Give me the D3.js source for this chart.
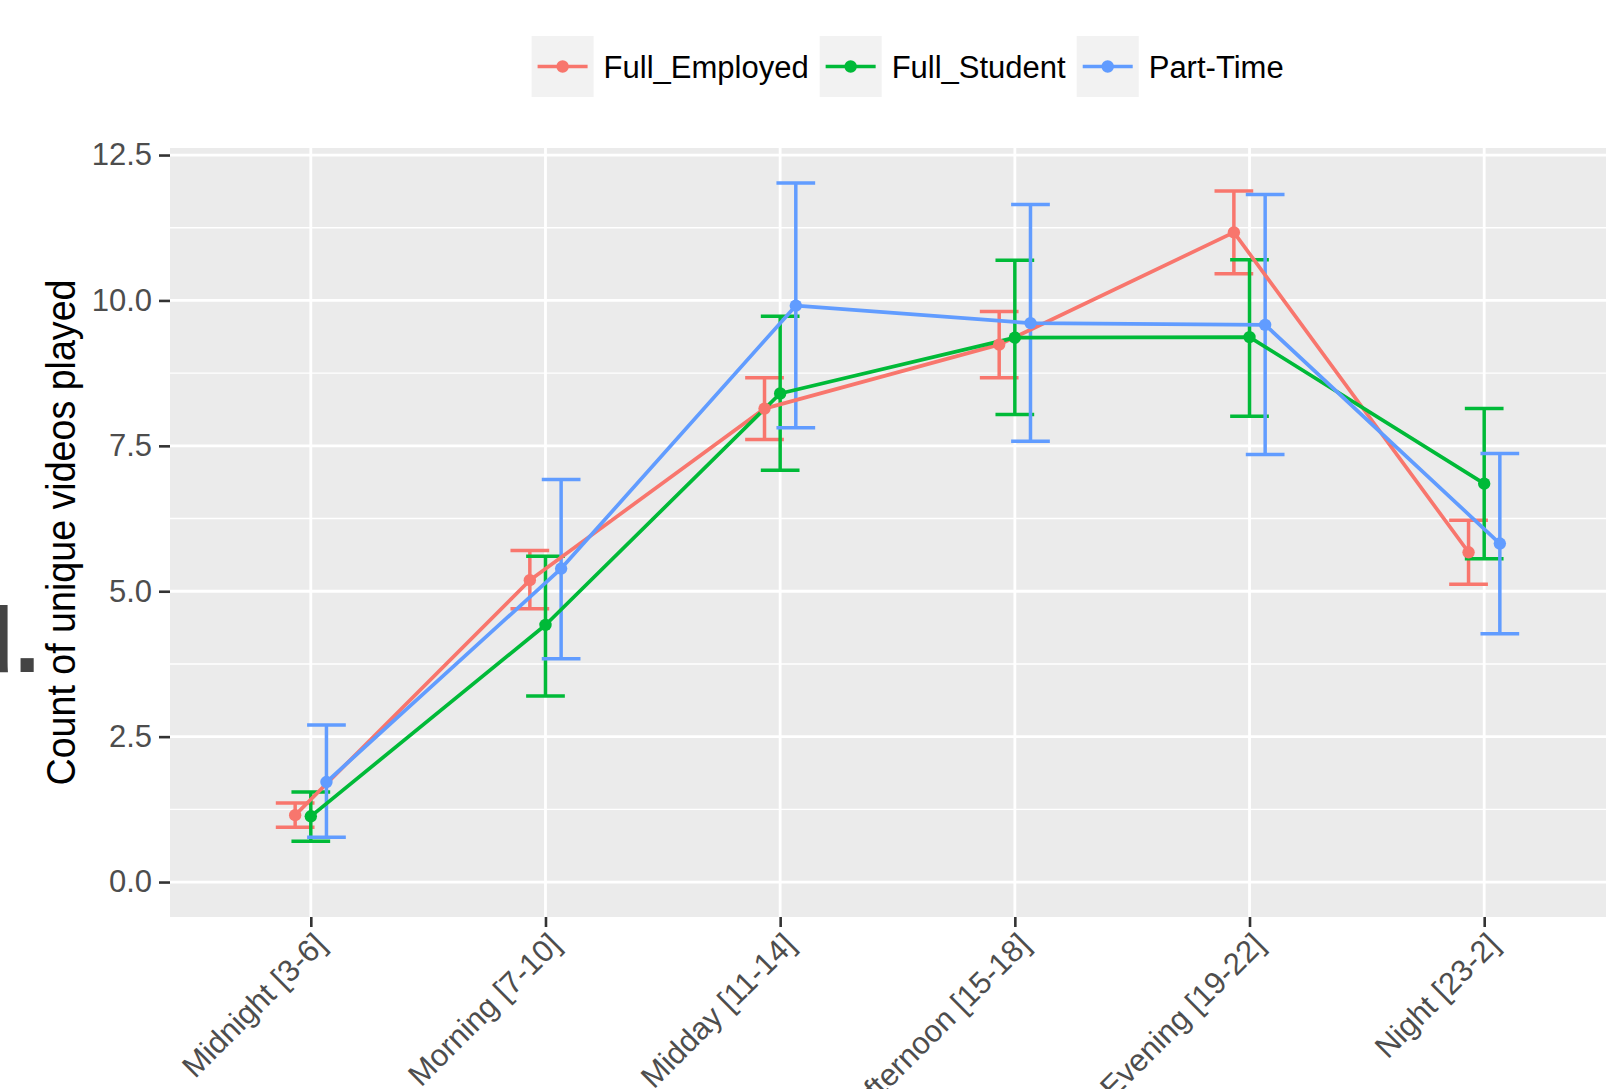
<!DOCTYPE html>
<html>
<head>
<meta charset="utf-8">
<script src="https://cdn.jsdelivr.net/npm/d3@7"></script>
<style>
  body { margin: 0; background: #fff; }
  svg { display: block; font-family: "Liberation Sans", Arial, Helvetica, sans-serif; }
</style>
</head>
<body>
<div id="chart"></div>
<script>
// Categories and groups
const periods = ["Midnight [3-6]", "Morning [7-10]", "Midday [11-14]", "Afternoon [15-18]", "Evening [19-22]", "Night [23-2]"];
const groups = ["Full_Employed", "Full_Student", "Part-Time"];
const groupColors = ["#F8766D", "#00BA38", "#619CFF"];
const yTicks = [0, 2.5, 5, 7.5, 10, 12.5];

// Means and error bar bounds, one array per group
const employedMean  = [1.15, 5.19, 8.14, 9.24, 11.17, 5.67];
const employedLow   = [0.94, 4.70, 7.61, 8.67, 10.46, 5.12];
const employedHigh  = [1.36, 5.70, 8.67, 9.81, 11.88, 6.22];
const studentMean   = [1.13, 4.42, 8.40, 9.36, 9.37, 6.85];
const studentLow    = [0.70, 3.20, 7.08, 8.04, 8.01, 5.56];
const studentHigh   = [1.55, 5.60, 9.73, 10.69, 10.70, 8.14];
const partMean      = [1.72, 5.39, 9.91, 9.61, 9.58, 5.82];
const partLow       = [0.77, 3.84, 7.81, 7.58, 7.35, 4.27];
const partHigh      = [2.70, 6.92, 12.02, 11.65, 11.82, 7.37];

const series = [
  { name: groups[0], mean: employedMean, low: employedLow, high: employedHigh },
  { name: groups[1], mean: studentMean, low: studentLow, high: studentHigh },
  { name: groups[2], mean: partMean, low: partLow, high: partHigh }
];

const W = 1606, H = 1089;
const panel = { left: 170, right: 1625, top: 148, bottom: 917 };
const dodge = 0.2;      // position_dodge width
const capWidth = 0.165; // errorbar cap width in x units

const svg = d3.select("#chart").append("svg")
  .attr("width", W)
  .attr("height", H);

// x: discrete positions 1..6 with 0.6 expansion
const x = d3.scaleLinear()
  .domain([0.4, periods.length + 0.6])
  .range([panel.left, panel.right]);

// y: include 0, expand by 5% of range
const yMax = d3.max(series, s => d3.max(s.high));
const yMin = 0;
const pad = (yMax - yMin) * 0.05;
const y = d3.scaleLinear()
  .domain([yMin - pad, yMax + pad])
  .range([panel.bottom, panel.top]);

const color = d3.scaleOrdinal().domain(groups).range(groupColors);
const offset = g => (groups.indexOf(g) - 1) * dodge / 3;

// Panel background
svg.append("rect")
  .attr("x", panel.left)
  .attr("y", panel.top)
  .attr("width", panel.right - panel.left)
  .attr("height", panel.bottom - panel.top)
  .attr("fill", "#EBEBEB");

// Minor gridlines
const minor = yTicks.slice(0, -1).map(t => t + 1.25);
svg.append("g").selectAll("line")
  .data(minor)
  .join("line")
    .attr("x1", panel.left).attr("x2", panel.right)
    .attr("y1", d => y(d)).attr("y2", d => y(d))
    .attr("stroke", "#fff")
    .attr("stroke-width", 1.4);

// Major gridlines
svg.append("g").selectAll("line")
  .data(yTicks)
  .join("line")
    .attr("x1", panel.left).attr("x2", panel.right)
    .attr("y1", d => y(d)).attr("y2", d => y(d))
    .attr("stroke", "#fff")
    .attr("stroke-width", 2.8);
svg.append("g").selectAll("line")
  .data(d3.range(1, periods.length + 1))
  .join("line")
    .attr("x1", d => x(d)).attr("x2", d => x(d))
    .attr("y1", panel.top).attr("y2", panel.bottom)
    .attr("stroke", "#fff")
    .attr("stroke-width", 2.8);

// Y axis
const yAxis = svg.append("g")
  .attr("transform", `translate(${panel.left},0)`)
  .call(d3.axisLeft(y).tickValues(yTicks).tickFormat(d3.format(".1f")).tickSize(11).tickPadding(7));
yAxis.select(".domain").remove();
yAxis.selectAll(".tick line").attr("stroke", "#333").attr("stroke-width", 2.6);
yAxis.selectAll(".tick text")
  .attr("fill", "#4D4D4D")
  .style("font-size", "31px")
  .style("font-family", "'Liberation Sans', Arial, sans-serif");

// X axis
const xAxis = svg.append("g")
  .attr("transform", `translate(0,${panel.bottom})`)
  .call(d3.axisBottom(x).tickValues(d3.range(1, periods.length + 1)).tickFormat(d => periods[d - 1]).tickSize(10));
xAxis.select(".domain").remove();
xAxis.selectAll(".tick line").attr("stroke", "#333").attr("stroke-width", 2.6);
xAxis.selectAll(".tick text")
  .attr("fill", "#4D4D4D")
  .style("font-size", "31px")
  .style("font-family", "'Liberation Sans', Arial, sans-serif")
  .attr("text-anchor", "end")
  .attr("y", 0)
  .attr("dy", "0.75em")
  .attr("transform", "translate(0,13) rotate(-45)");

// Error bars
const eb = svg.append("g");
series.forEach(s => {
  const c = color(s.name);
  const g = eb.append("g").attr("stroke", c).attr("stroke-width", 3.5).attr("fill", "none");
  periods.forEach((p, i) => {
    const cx = i + 1 + offset(s.name);
    g.append("line")
      .attr("x1", x(cx)).attr("x2", x(cx))
      .attr("y1", y(s.low[i])).attr("y2", y(s.high[i]));
    g.append("line")
      .attr("x1", x(cx - capWidth / 2)).attr("x2", x(cx + capWidth / 2))
      .attr("y1", y(s.high[i])).attr("y2", y(s.high[i]));
    g.append("line")
      .attr("x1", x(cx - capWidth / 2)).attr("x2", x(cx + capWidth / 2))
      .attr("y1", y(s.low[i])).attr("y2", y(s.low[i]));
  });
});

// Lines
const line = d3.line()
  .x(d => x(d.pos))
  .y(d => y(d.value));
series.forEach(s => {
  const pts = s.mean.map((v, i) => ({ pos: i + 1 + offset(s.name), value: v }));
  svg.append("path")
    .datum(pts)
    .attr("d", line)
    .attr("fill", "none")
    .attr("stroke", color(s.name))
    .attr("stroke-width", 3.7)
    .attr("stroke-linejoin", "round");
});

// Points
series.forEach(s => {
  svg.append("g").selectAll("circle")
    .data(s.mean)
    .join("circle")
      .attr("cx", (d, i) => x(i + 1 + offset(s.name)))
      .attr("cy", d => y(d))
      .attr("r", 6.2)
      .attr("fill", color(s.name));
});

// Y axis title
svg.append("text")
  .attr("transform", `translate(75,${(panel.top + panel.bottom) / 2}) rotate(-90)`)
  .attr("text-anchor", "middle")
  .attr("textLength", 506)
  .attr("lengthAdjust", "spacingAndGlyphs")
  .style("font-size", "40px")
  .attr("fill", "#000")
  .text("Count of unique videos played");

// Panel tag, cut at the left edge
svg.append("text")
  .attr("x", 40)
  .attr("y", 672)
  .attr("text-anchor", "end")
  .style("font-size", "93px")
  .style("font-weight", "bold")
  .attr("fill", "#444")
  .text("d.");

// Legend
const legend = svg.append("g");
let lx = 531.6;
const keyW = 62, keyH = 61, keyTop = 36;
groups.forEach((gname, i) => {
  const c = color(gname);
  legend.append("rect")
    .attr("x", lx).attr("y", keyTop)
    .attr("width", keyW).attr("height", keyH)
    .attr("fill", "#F2F2F2");
  legend.append("line")
    .attr("x1", lx + 6).attr("x2", lx + keyW - 6)
    .attr("y1", keyTop + keyH / 2).attr("y2", keyTop + keyH / 2)
    .attr("stroke", c).attr("stroke-width", 3.7);
  legend.append("circle")
    .attr("cx", lx + keyW / 2).attr("cy", keyTop + keyH / 2)
    .attr("r", 6.2).attr("fill", c);
  const t = legend.append("text")
    .attr("x", lx + keyW + 10)
    .attr("y", keyTop + keyH / 2)
    .attr("dy", "0.36em")
    .style("font-size", "31px")
    .attr("fill", "#000")
    .text(gname);
  lx += keyW + 10 + t.node().getComputedTextLength() + 11;
});
</script>
</body>
</html>
